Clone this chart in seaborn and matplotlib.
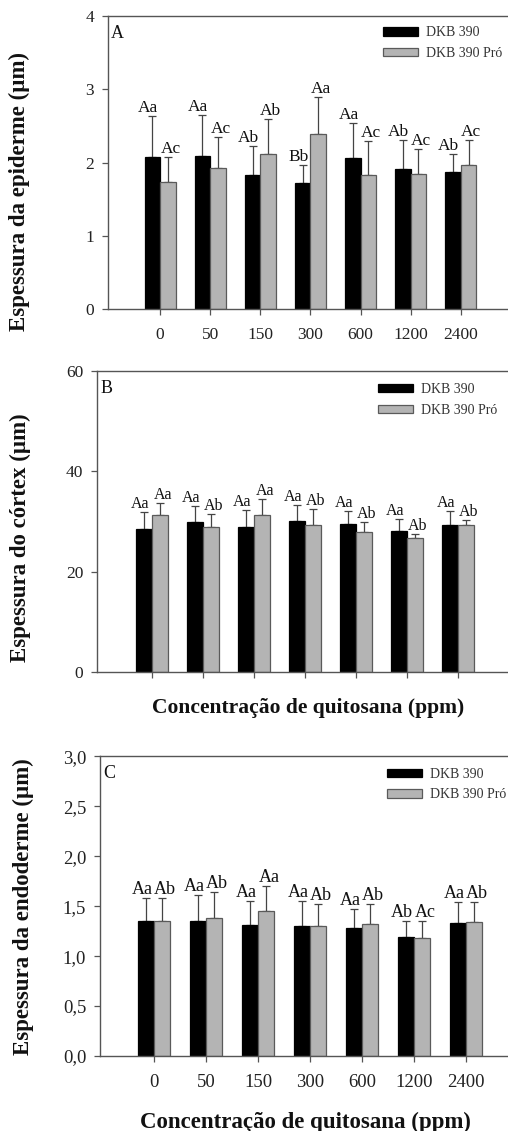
import matplotlib
matplotlib.use("Agg")
import matplotlib.pyplot as plt
import pandas as pd
import seaborn as sns

doses = ["0", "50", "150", "300", "600", "1200", "2400"]
cultivares = ["DKB 390", "DKB 390 Pró"]

# A - epiderme
epi_dkb = [2.08, 2.09, 1.83, 1.72, 2.06, 1.91, 1.87]
epi_pro = [1.73, 1.92, 2.11, 2.39, 1.83, 1.84, 1.97]
epi_dkb_err = [0.55, 0.56, 0.39, 0.24, 0.48, 0.40, 0.24]
epi_pro_err = [0.34, 0.43, 0.48, 0.50, 0.47, 0.34, 0.34]
epi_dkb_let = ["Aa", "Aa", "Ab", "Bb", "Aa", "Ab", "Ab"]
epi_pro_let = ["Ac", "Ac", "Ab", "Aa", "Ac", "Ac", "Ac"]

# B - cortex
cor_dkb = [28.6, 29.9, 28.9, 30.1, 29.6, 28.2, 29.4]
cor_pro = [31.3, 29.0, 31.3, 29.4, 27.9, 26.8, 29.3]
cor_dkb_err = [3.3, 3.2, 3.5, 3.2, 2.5, 2.3, 2.7]
cor_pro_err = [2.4, 2.6, 3.2, 3.2, 2.0, 0.8, 1.0]
cor_dkb_let = ["Aa", "Aa", "Aa", "Aa", "Aa", "Aa", "Aa"]
cor_pro_let = ["Aa", "Ab", "Aa", "Ab", "Ab", "Ab", "Ab"]

# C - endoderme
end_dkb = [1.35, 1.35, 1.31, 1.30, 1.28, 1.19, 1.33]
end_pro = [1.35, 1.38, 1.45, 1.30, 1.32, 1.18, 1.34]
end_dkb_err = [0.23, 0.26, 0.24, 0.25, 0.19, 0.16, 0.21]
end_pro_err = [0.23, 0.26, 0.25, 0.22, 0.20, 0.17, 0.20]
end_dkb_let = ["Aa", "Aa", "Aa", "Aa", "Aa", "Ab", "Aa"]
end_pro_let = ["Ab", "Ab", "Aa", "Ab", "Ab", "Ac", "Ab"]

sns.set_style("ticks")
plt.rcParams["font.family"] = ["Liberation Serif", "DejaVu Serif"]
plt.rcParams["axes.edgecolor"] = "#555555"
plt.rcParams["xtick.color"] = "#555555"
plt.rcParams["ytick.color"] = "#555555"
plt.rcParams["xtick.labelcolor"] = "#222222"
plt.rcParams["ytick.labelcolor"] = "#222222"

fig = plt.figure(figsize=(5.08, 11.31), dpi=100)


def painel(pos, dkb, pro, err_dkb, err_pro, let_dkb, let_pro, xlim, ylim,
           yticks, yfmt, ylabel, ylab_xy, letra, leg_xy, fs_tick, fs_let):
    ax = fig.add_axes(pos)
    df = pd.DataFrame({
        "dose": doses * 2,
        "cultivar": [cultivares[0]] * len(doses) + [cultivares[1]] * len(doses),
        "valor": dkb + pro,
    })
    sns.barplot(data=df, x="dose", y="valor", hue="cultivar", order=doses,
                hue_order=cultivares, palette=["#000000", "#b4b4b4"],
                width=0.62, errorbar=None, legend=False, linewidth=0.9,
                edgecolor="#000000", zorder=2, ax=ax)
    for bar in ax.containers[1]:
        bar.set_edgecolor("#5a5a5a")

    # barras de erro (so para cima) e letras
    for cont, vals, errs, lets, dx in zip(ax.containers, [dkb, pro],
                                          [err_dkb, err_pro],
                                          [let_dkb, let_pro], [-3, 2]):
        xs = [b.get_x() + b.get_width() / 2 for b in cont]
        ax.errorbar(xs, vals, yerr=[[0] * len(errs), errs], fmt="none",
                    ecolor="#444444", elinewidth=0.9, capsize=3, capthick=0.9,
                    zorder=1.5)
        for x, v, e, t in zip(xs, vals, errs, lets):
            ax.annotate(t, (x, v + e), xytext=(dx, 0),
                        textcoords="offset points", ha="center", va="bottom",
                        fontsize=fs_let, color="#111111")

    ax.set_xlim(*xlim)
    ax.set_ylim(*ylim)
    ax.set_yticks(yticks)
    ax.set_yticklabels([yfmt(v) for v in yticks])
    ax.set_xlabel("")
    ax.set_ylabel(ylabel, fontsize=16.5, fontweight="bold", color="#111111")
    ax.yaxis.set_label_coords(*ylab_xy)
    ax.tick_params(axis="both", direction="out", length=4, width=0.9,
                   labelsize=fs_tick)
    ax.tick_params(axis="x", pad=9)
    ax.tick_params(axis="y", pad=6)
    ax.spines["right"].set_visible(False)
    for s in ["left", "bottom", "top"]:
        ax.spines[s].set_linewidth(1.0)
    ax.text(0.008, 0.97, letra, transform=ax.transAxes, ha="left", va="top",
            fontsize=13, color="#111111")
    ax.legend(ax.containers, cultivares, loc="upper left",
              bbox_to_anchor=leg_xy, frameon=False, fontsize=10,
              handlelength=2.5, handleheight=0.55, handletextpad=0.6,
              labelspacing=0.55, borderpad=0, borderaxespad=0,
              labelcolor="#333333")
    return ax


axA = painel([0.2126, 0.7268, 0.797, 0.259], epi_dkb, epi_pro, epi_dkb_err,
             epi_pro_err, epi_dkb_let, epi_pro_let, (-1.04, 7.04), (0, 4),
             [0, 1, 2, 3, 4], lambda v: f"{v:g}",
             "Espessura da epiderme (µm)", (-0.193, 0.40), "A",
             (0.679, 0.965), 12.5, 12.5)

axB = painel([0.191, 0.4058, 0.819, 0.266], cor_dkb, cor_pro, cor_dkb_err,
             cor_pro_err, cor_dkb_let, cor_pro_let, (-1.08, 7.08), (0, 60),
             [0, 20, 40, 60], lambda v: f"{v:g}",
             "Espessura do córtex (µm)", (-0.159, 0.445), "B",
             (0.675, 0.96), 12.5, 11.5)
axB.set_xticklabels([])
axB.set_xlabel("Concentração de quitosana (ppm)", fontsize=15.5,
               fontweight="bold", color="#111111")
axB.xaxis.set_label_coords(0.508, -0.086)

axC = painel([0.197, 0.0663, 0.827, 0.265], end_dkb, end_pro, end_dkb_err,
             end_pro_err, end_dkb_let, end_pro_let, (-1.04, 7.04), (0, 3),
             [0, 0.5, 1.0, 1.5, 2.0, 2.5, 3.0],
             lambda v: f"{v:.1f}".replace(".", ","),
             "Espessura da endoderme (µm)", (-0.157, 0.5), "C",
             (0.683, 0.962), 13.5, 13)
axC.set_xlabel("Concentração de quitosana (ppm)", fontsize=16.5,
               fontweight="bold", color="#111111")
axC.xaxis.set_label_coords(0.49, -0.185)

fig.savefig("out.png", dpi=100, facecolor="white")
